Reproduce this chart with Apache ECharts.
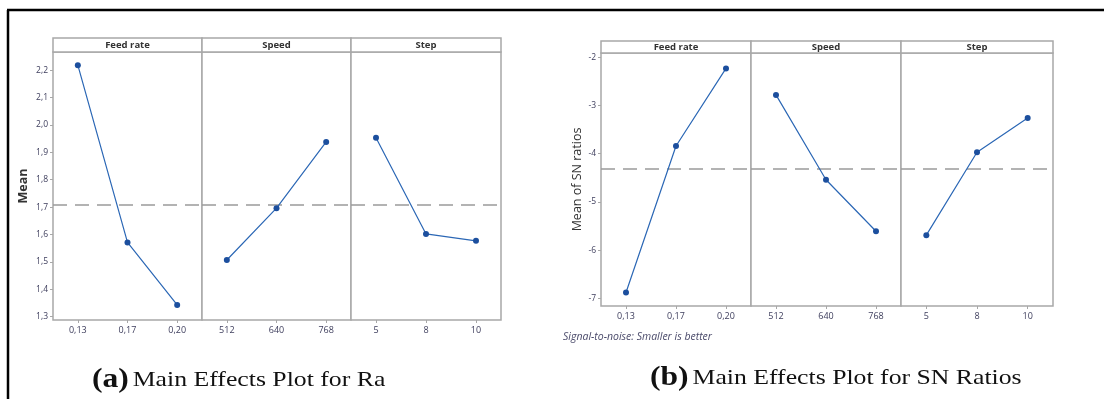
<!DOCTYPE html>
<html lang="en">
<head>
	<meta charset="UTF-8">
	<title>Main Effects Plots</title>
	<style>
		html, body { margin: 0; padding: 0; background: #fff; }
		#main { width: 1104px; height: 399px; }
	</style>
	<script src="https://cdn.jsdelivr.net/npm/echarts@6.0.0/dist/echarts.min.js"></script>
</head>
<body>
	<div id="main"></div>
	<script>
		// factor levels
		var panelNames = ['Feed rate', 'Speed', 'Step'];
		var feedLevels = ['0,13', '0,17', '0,20'];
		var speedLevels = ['512', '640', '768'];
		var stepLevels = ['5', '8', '10'];

		// (a) means for Ra
		var raFeed = [2.218, 1.571, 1.343];
		var raSpeed = [1.507, 1.696, 1.938];
		var raStep = [1.953, 1.602, 1.577];
		var raMean = 1.71;
		var raTicks = [1.3, 1.4, 1.5, 1.6, 1.7, 1.8, 1.9, 2.0, 2.1, 2.2];

		// (b) means of SN ratios
		var snFeed = [-6.88, -3.84, -2.23];
		var snSpeed = [-2.78, -4.54, -5.61];
		var snStep = [-5.69, -3.97, -3.26];
		var snMean = -4.31;
		var snTicks = [-7, -6, -5, -4, -3, -2];

		var frameColor = '#a8a8a8';
		var labelColor = '#3d3d5c';
		var tickFont = 'Open Sans';

		var grids = [], xAxes = [], yAxes = [], series = [], graphics = [];

		// one minitab style plot, three panels side by side
		function addPlot(p) {
			var levels = [feedLevels, speedLevels, stepLevels];
			for (var i = 0; i < 3; i++) {
				var left = p.xs[i], width = p.xs[i + 1] - p.xs[i];
				var idx = grids.length;
				grids.push({
					show: true, left: left, width: width, top: p.top, height: p.bottom - p.top,
					borderColor: frameColor, borderWidth: 1.5, backgroundColor: '#fff'
				});
				xAxes.push({
					gridIndex: idx, type: 'category', data: levels[i], boundaryGap: true,
					axisLine: { show: false },
					axisTick: { show: true, alignWithLabel: true, length: 3, lineStyle: { color: frameColor } },
					axisLabel: { fontSize: 9, fontFamily: tickFont, color: labelColor, margin: 6 },
					splitLine: { show: false }
				});
				var y = {
					gridIndex: idx, type: 'value', min: p.min, max: p.max,
					axisLine: { show: false },
					splitLine: { show: false },
					axisTick: { show: false },
					axisLabel: { show: false }
				};
				if (i === 0) {
					y.axisTick = { show: true, length: 3, customValues: p.ticks, lineStyle: { color: frameColor } };
					y.axisLabel = {
						show: true, customValues: p.ticks, fontSize: 8.5, fontFamily: tickFont,
						color: labelColor, margin: 5, formatter: p.fmt
					};
					y.name = p.yName;
					y.nameLocation = 'middle';
					y.nameGap = p.nameGap;
					y.nameTextStyle = { fontSize: 12.5, fontFamily: tickFont, color: '#333', fontWeight: p.nameBold ? 'bold' : 'normal' };
				}
				yAxes.push(y);
				series.push({
					type: 'line', xAxisIndex: idx, yAxisIndex: idx,
					data: p.data[i],
					symbol: 'circle', symbolSize: 6,
					itemStyle: { color: '#1c4f9e' },
					lineStyle: { color: '#2b67b5', width: 1.2 },
					z: 5,
					markLine: {
						silent: true, symbol: 'none', label: { show: false },
						lineStyle: { color: '#9a9a9a', type: [14, 8], width: 1.5 },
						data: [{ yAxis: p.mean }]
					}
				});
				// strip header
				graphics.push({
					type: 'rect', shape: { x: left, y: p.stripTop, width: width, height: p.top - p.stripTop },
					style: { fill: '#fff', stroke: frameColor, lineWidth: 1.5 }
				});
				graphics.push({
					type: 'text', x: left + width / 2, y: (p.stripTop + p.top) / 2 + 0.5,
					style: {
						text: panelNames[i], fill: '#333', font: 'bold 9.5px "Open Sans"',
						textAlign: 'center', textVerticalAlign: 'middle'
					}
				});
			}
		}

		addPlot({
			xs: [53, 202, 351, 501], top: 52, bottom: 320, stripTop: 38,
			min: 1.288, max: 2.266, ticks: raTicks, mean: raMean,
			data: [raFeed, raSpeed, raStep],
			fmt: function (v) { return v.toFixed(1).replace('.', ','); },
			yName: 'Mean', nameGap: 23, nameBold: true
		});
		addPlot({
			xs: [601, 751, 901, 1053], top: 53, bottom: 306, stripTop: 41,
			min: -7.16, max: -1.911, ticks: snTicks, mean: snMean,
			data: [snFeed, snSpeed, snStep],
			fmt: function (v) { return String(v); },
			yName: 'Mean of SN ratios', nameGap: 17, nameBold: false
		});

		// black frame of the figure
		graphics.push({ type: 'line', shape: { x1: 7, y1: 10, x2: 1104, y2: 10 }, style: { stroke: '#000', lineWidth: 2.5 } });
		graphics.push({ type: 'line', shape: { x1: 8, y1: 10, x2: 8, y2: 399 }, style: { stroke: '#000', lineWidth: 2.5 } });

		graphics.push({
			type: 'text', x: 563, y: 337,
			style: { text: 'Signal-to-noise: Smaller is better', fill: '#4a4a6a', font: 'italic 10.5px "Open Sans"', textVerticalAlign: 'middle' }
		});

		// captions (the reference text is a bit stretched sideways)
		var captionRich = {
			b: { font: 'bold 27px "Liberation Serif"', fill: '#111' },
			n: { font: '22px "Liberation Serif"', fill: '#111' }
		};
		graphics.push({
			type: 'text', x: 92, y: 380, scaleX: 1.17,
			style: { text: '{b|(a)} {n|Main Effects Plot for Ra}', textVerticalAlign: 'middle', rich: captionRich }
		});
		graphics.push({
			type: 'text', x: 650, y: 378, scaleX: 1.17,
			style: { text: '{b|(b)} {n|Main Effects Plot for SN Ratios}', textVerticalAlign: 'middle', rich: captionRich }
		});

		var chart = echarts.init(document.getElementById('main'));
		chart.setOption({
			animation: false,
			backgroundColor: '#fff',
			grid: grids,
			xAxis: xAxes,
			yAxis: yAxes,
			series: series,
			graphic: graphics
		});
	</script>
</body>
</html>
